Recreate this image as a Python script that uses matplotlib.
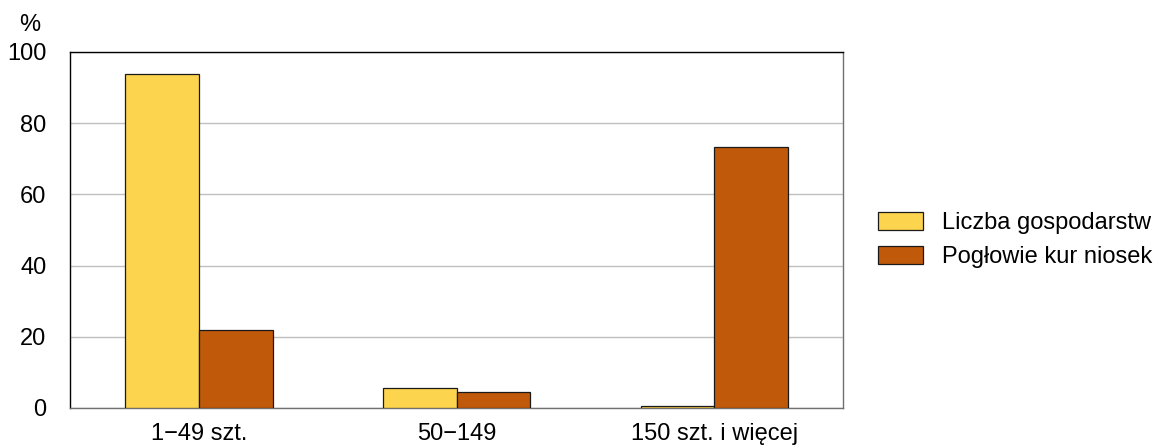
import matplotlib.pyplot as plt
import numpy as np

plt.rcParams['font.family'] = ['Liberation Sans', 'DejaVu Sans']

# Dane
kategorie = ['1\u221249 szt.', '50\u2212149', '150 szt. i więcej']
gospodarstwa = [93.7, 5.7, 0.7]
poglowie = [21.8, 4.6, 73.4]
serie = ['Liczba gospodarstw', 'Pogłowie kur niosek']
kolory = ['#FDD44E', '#C05A0A']

fig = plt.figure(figsize=(11.59, 4.48), dpi=100)
ax = fig.add_axes([0.0604, 0.0893, 0.6670, 0.7947])

x = np.arange(len(kategorie))
w = 0.286
ax.bar(x - w / 2, gospodarstwa, w, color=kolory[0], edgecolor='#1a1a1a',
       linewidth=0.9, label=serie[0], zorder=3)
ax.bar(x + w / 2, poglowie, w, color=kolory[1], edgecolor='#1a1a1a',
       linewidth=0.9, label=serie[1], zorder=3)

ax.set_xlim(-0.5, 2.5)
ax.set_ylim(0, 100)
ax.set_yticks([0, 20, 40, 60, 80, 100])
ax.set_xticks(x)
ax.set_xticklabels(kategorie)
ax.tick_params(axis='both', length=0, labelsize=17, colors='black')
ax.tick_params(axis='y', pad=17)
ax.tick_params(axis='x', pad=11)
ax.grid(axis='y', color='#c0c0c0', linewidth=1, zorder=0)

for s in ['left', 'top']:
    ax.spines[s].set_color('black')
for s in ['right', 'bottom']:
    ax.spines[s].set_color('#707070')
for s in ax.spines.values():
    s.set_linewidth(1)

fig.text(30 / 1159, 1 - 25 / 448, '%', fontsize=17, ha='center', va='center')

fig.legend(loc='center left', bbox_to_anchor=(0.7576, 0.465), frameon=False,
           fontsize=17, borderpad=0, borderaxespad=0, handlelength=1.9,
           handleheight=0.8, handletextpad=0.82, labelspacing=0.5)

plt.savefig('out.png', dpi=100)
